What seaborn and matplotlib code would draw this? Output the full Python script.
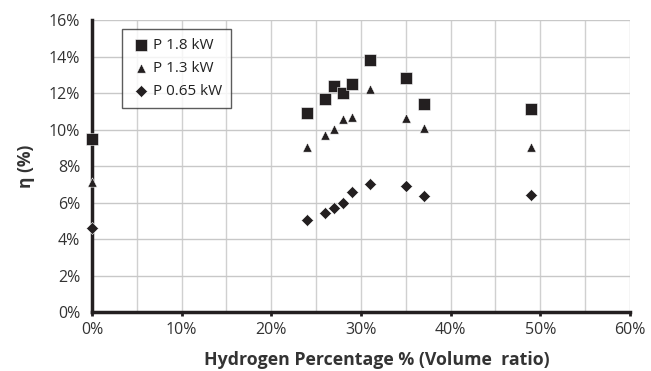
import pandas as pd
import matplotlib
matplotlib.use('Agg')
import matplotlib.pyplot as plt
from matplotlib.ticker import MultipleLocator, PercentFormatter
import seaborn as sns

# hydrogen share (% volume) and efficiency (%)
hydrogen = [0, 24, 26, 27, 28, 29, 31, 35, 37, 49]
eta_18 = [9.5, 10.9, 11.7, 12.4, 12.0, 12.5, 13.8, 12.85, 11.4, 11.15]
eta_13 = [7.1, 9.05, 9.7, 10.05, 10.55, 10.7, 12.2, 10.65, 10.1, 9.05]
eta_065 = [4.6, 5.05, 5.4, 5.7, 6.0, 6.6, 7.0, 6.9, 6.35, 6.4]
series = ['P 1.8 kW', 'P 1.3 kW', 'P 0.65 kW']

frames = []
for name, vals in zip(series, [eta_18, eta_13, eta_065]):
    frames.append(pd.DataFrame({'h2': hydrogen, 'eta': vals, 'series': name}))
df = pd.concat(frames, ignore_index=True)

sns.set_style('white')
plt.rcParams['font.family'] = ['Open Sans', 'DejaVu Sans']

fig = plt.figure(figsize=(6.51, 3.71), dpi=100)
ax = fig.add_axes([0.1413, 0.159, 0.8264, 0.787])

ink = '#231f20'
sizes = {'P 1.8 kW': 70, 'P 1.3 kW': 45, 'P 0.65 kW': 38}
markers = {'P 1.8 kW': 's', 'P 1.3 kW': '^', 'P 0.65 kW': 'D'}
for name in series:
    sub = df[df['series'] == name]
    sns.scatterplot(data=sub, x='h2', y='eta', ax=ax, marker=markers[name],
                    s=sizes[name], color=ink, edgecolor='white', linewidth=0.4,
                    label=name, zorder=3, clip_on=False)

ax.set_xlim(0, 60)
ax.set_ylim(0, 16)
ax.xaxis.set_major_locator(MultipleLocator(10))
ax.xaxis.set_minor_locator(MultipleLocator(5))
ax.yaxis.set_major_locator(MultipleLocator(2))
ax.xaxis.set_major_formatter(PercentFormatter(decimals=0))
ax.yaxis.set_major_formatter(PercentFormatter(decimals=0))
ax.grid(True, which='both', axis='x', color='#d0d0d0', linewidth=1)
ax.grid(True, which='major', axis='y', color='#c8c8c8', linewidth=1)
ax.set_axisbelow(True)

for side in ['top', 'right']:
    ax.spines[side].set_visible(False)
for side in ['left', 'bottom']:
    ax.spines[side].set_color(ink)
    ax.spines[side].set_linewidth(2.5)

ax.tick_params(axis='x', which='major', bottom=True, length=3, width=2,
               color=ink, labelsize=11.5, labelcolor='#333333', pad=4)
ax.tick_params(axis='x', which='minor', bottom=False)
ax.tick_params(axis='y', left=False, labelsize=11.5, labelcolor='#333333', pad=5)

ax.set_xlabel('Hydrogen Percentage % (Volume  ratio)', fontsize=12.8,
              fontweight='bold', color='#333333')
ax.xaxis.set_label_coords(0.53, -0.135)
ax.set_ylabel('η (%)', fontsize=12.5, fontweight='bold', color='#333333',
              labelpad=10)

leg = ax.legend(loc='upper left', bbox_to_anchor=(0.056, 0.969), fontsize=11,
                frameon=True, fancybox=False, edgecolor='#333333',
                handletextpad=0.1, borderpad=0.6, labelspacing=0.5,
                handlelength=1.3, borderaxespad=0)
leg.get_frame().set_linewidth(1)
for t in leg.get_texts():
    t.set_color('#222222')

fig.savefig('out.png', dpi=100)
plt.close(fig)
